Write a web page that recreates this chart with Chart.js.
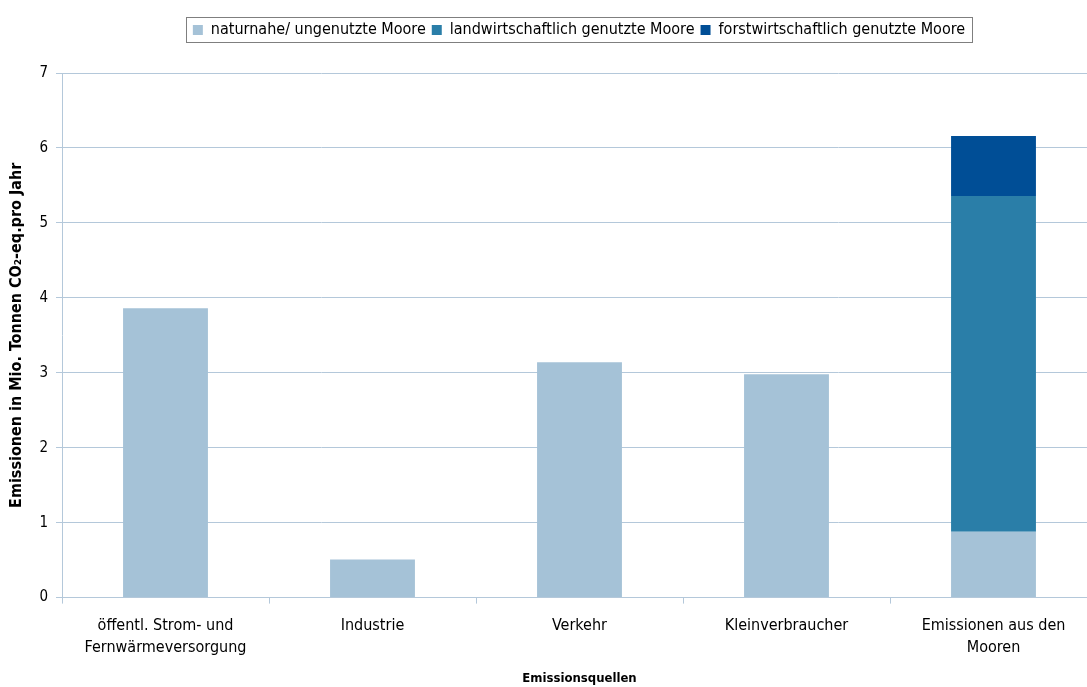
<!DOCTYPE html>
<html lang="de">
<head>
<meta charset="utf-8">
<title>Emissionsquellen</title>
<script src="https://cdn.jsdelivr.net/npm/chart.js@4/dist/chart.umd.min.js"></script>
<style>
    html, body { margin: 0; padding: 0; background: #fff; overflow: hidden; }
    #emissions-bar { display: block; }
</style>
</head>
<body>
<canvas id="emissions-bar" width="1158" height="687"></canvas>
<script>
    "use strict";

    // Daten
    var categories = [
        ["öffentl. Strom- und", "Fernwärmeversorgung"],
        "Industrie",
        "Verkehr",
        "Kleinverbraucher",
        ["Emissionen aus den", "Mooren"]
    ];
    var naturnahe = [3.86, 0.51, 3.14, 2.98, 0.88];
    var landwirtschaftlich = [null, null, null, null, 4.48];
    var forstwirtschaftlich = [null, null, null, null, 0.80];
    var yTicks = [0, 1, 2, 3, 4, 5, 6, 7];

    var font = "'Liberation Sans Narrow', 'DejaVu Sans Condensed', sans-serif";
    var axisColor = "#b4c8da";

    // Rahmen um die Legende + Abstand zum Diagramm
    var legendBorder = {
        id: "legendBorder",
        afterInit: function (chart) {
            var legend = chart.legend;
            var fit = legend.fit;
            legend.fit = function () {
                fit.call(this);
                this.height += 25;
            };
        },
        afterDraw: function (chart) {
            var boxes = chart.legend.legendHitBoxes;
            if (!boxes || !boxes.length) return;
            var last = boxes[boxes.length - 1];
            var left = boxes[0].left, right = last.left + last.width;
            var top = boxes[0].top, h = boxes[0].height;
            var ctx = chart.ctx;
            ctx.save();
            ctx.strokeStyle = "#7f7f7f";
            ctx.lineWidth = 1;
            ctx.strokeRect(Math.round(left - 7) + 0.5, Math.round(top - 5) + 0.5, Math.round(right - left + 14), Math.round(h + 9));
            ctx.restore();
        }
    };

    // Emissionen - Chart
    var ctx1 = document.getElementById("emissions-bar").getContext("2d");
    var myChart1 = new Chart(ctx1, {
        type: "bar",
        data: {
            labels: categories,
            datasets: [{
                    label: "naturnahe/ ungenutzte Moore",
                    data: naturnahe,
                    backgroundColor: "#a5c2d7"
                },
                {
                    label: "landwirtschaftlich genutzte Moore",
                    data: landwirtschaftlich,
                    backgroundColor: "#2a7ea8"
                },
                {
                    label: "forstwirtschaftlich genutzte Moore",
                    data: forstwirtschaftlich,
                    backgroundColor: "#004e96"
                }
            ]
        },
        options: {
            responsive: false,
            animation: false,
            barPercentage: 0.41,
            categoryPercentage: 1,
            layout: {
                padding: { top: 16, bottom: 1, left: 0, right: 0 }
            },
            plugins: {
                legend: {
                    position: "top",
                    labels: {
                        boxWidth: 10,
                        boxHeight: 10,
                        padding: 6,
                        color: "#000",
                        font: { family: font, size: 16 }
                    }
                },
                tooltip: { enabled: false }
            },
            scales: {
                x: {
                    stacked: true,
                    grid: {
                        offset: true,
                        drawOnChartArea: false,
                        drawTicks: true,
                        tickLength: 6,
                        color: axisColor
                    },
                    border: { color: axisColor },
                    ticks: {
                        color: "#000",
                        padding: 11,
                        maxRotation: 0,
                        font: { family: font, size: 16, lineHeight: 1.4 }
                    },
                    title: {
                        display: true,
                        text: "Emissionsquellen",
                        color: "#000",
                        padding: { top: 0, bottom: 0 },
                        font: { family: font, size: 13, weight: "bold" }
                    }
                },
                y: {
                    stacked: true,
                    min: 0,
                    max: 7,
                    afterFit: function (s) { s.width = 62; },
                    afterBuildTicks: function (s) {
                        s.ticks = yTicks.map(function (v) { return { value: v }; });
                    },
                    grid: {
                        color: axisColor,
                        tickLength: 6
                    },
                    border: { color: axisColor },
                    ticks: {
                        color: "#000",
                        padding: 8,
                        font: { family: font, size: 15 }
                    },
                    title: {
                        display: true,
                        text: "Emissionen in Mio. Tonnen CO₂-eq.pro Jahr",
                        color: "#000",
                        padding: { top: 7, bottom: 4 },
                        font: { family: font, size: 16, weight: "bold" }
                    }
                },
                yRight: {
                    position: "right",
                    afterFit: function (s) { s.width = 61; },
                    grid: { display: false },
                    border: { display: false },
                    ticks: { display: false }
                }
            }
        },
        plugins: [legendBorder]
    });
</script>
</body>
</html>
